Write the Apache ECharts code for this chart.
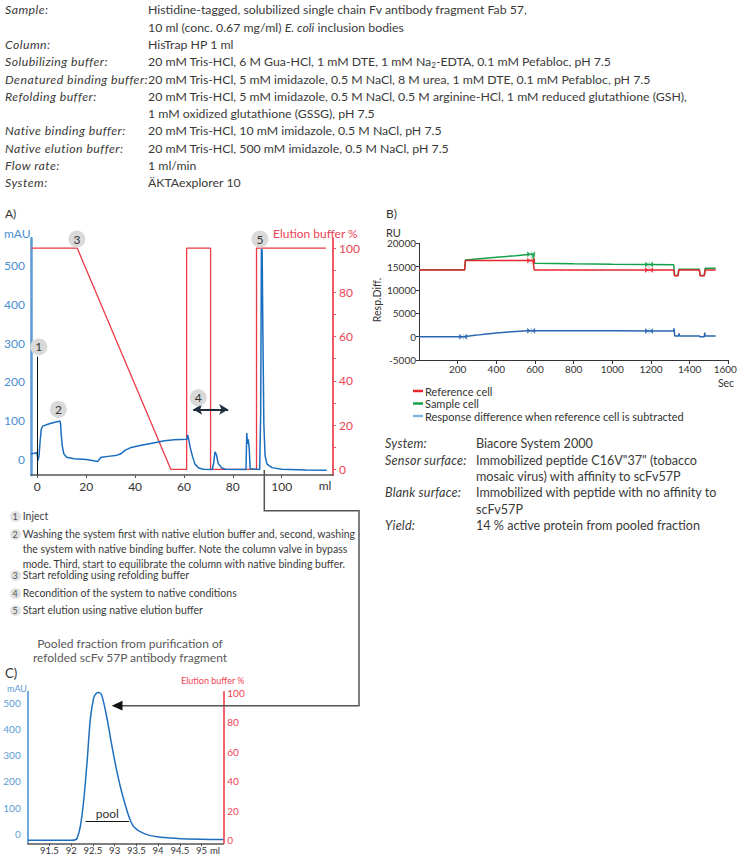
<!DOCTYPE html>
<html>
<head>
<meta charset="utf-8">
<title>Refolding of scFv 57P on HisTrap HP</title>
<script src="https://cdn.jsdelivr.net/npm/echarts@6.0.0/dist/echarts.min.js"></script>
<style>
  html, body { margin:0; padding:0; background:#ffffff; }
  #page { position:relative; width:738px; height:856px; overflow:hidden; font-family: Lato, "Noto Sans", sans-serif; color:#3a3a3a; }
  #chart { position:absolute; left:0; top:0; width:738px; height:856px; }
  .abs { position:absolute; white-space:nowrap; }
  .lab { font-style:italic; letter-spacing:0.45px; }
  sub { font-size:8px; vertical-align:-2px; line-height:0; }
  .num { position:absolute; width:11px; height:11px; border-radius:50%; background:#e2e2e2; color:#555; font-size:9px; line-height:11px; text-align:center; }
</style>
</head>
<body>
<div id="page">
  <div id="chart"></div>

  <!-- method description -->
  <div class="abs" style="left:0;top:1.35px;font-size:12.3px;line-height:17.3px;">
    <div class="abs lab" style="left:5px;top:0px;">Sample:</div>
    <div class="abs" style="left:148px;top:0px;">Histidine-tagged, solubilized single chain Fv antibody fragment Fab 57,<br>10 ml (conc. 0.67 mg/ml) <i>E. coli</i> inclusion bodies</div>
    <div class="abs lab" style="left:5px;top:34.6px;">Column:</div>
    <div class="abs" style="left:148px;top:34.6px;">HisTrap HP 1 ml</div>
    <div class="abs lab" style="left:5px;top:51.9px;">Solubilizing buffer:</div>
    <div class="abs" style="left:148px;top:51.9px;">20 mM Tris-HCl, 6 M Gua-HCl, 1 mM DTE, 1 mM Na<sub>2</sub>-EDTA, 0.1 mM Pefabloc, pH 7.5</div>
    <div class="abs lab" style="left:5px;top:69.2px;">Denatured binding buffer:</div>
    <div class="abs" style="left:148px;top:69.2px;">20 mM Tris-HCl, 5 mM imidazole, 0.5 M NaCl, 8 M urea, 1 mM DTE, 0.1 mM Pefabloc, pH 7.5</div>
    <div class="abs lab" style="left:5px;top:86.5px;">Refolding buffer:</div>
    <div class="abs" style="left:148px;top:86.5px;">20 mM Tris-HCl, 5 mM imidazole, 0.5 M NaCl, 0.5 M arginine-HCl, 1 mM reduced glutathione (GSH),<br>1 mM oxidized glutathione (GSSG), pH 7.5</div>
    <div class="abs lab" style="left:5px;top:121.1px;">Native binding buffer:</div>
    <div class="abs" style="left:148px;top:121.1px;">20 mM Tris-HCl, 10 mM imidazole, 0.5 M NaCl, pH 7.5</div>
    <div class="abs lab" style="left:5px;top:138.4px;">Native elution buffer:</div>
    <div class="abs" style="left:148px;top:138.4px;">20 mM Tris-HCl, 500 mM imidazole, 0.5 M NaCl, pH 7.5</div>
    <div class="abs lab" style="left:5px;top:155.7px;">Flow rate:</div>
    <div class="abs" style="left:148px;top:155.7px;">1 ml/min</div>
    <div class="abs lab" style="left:5px;top:173px;">System:</div>
    <div class="abs" style="left:148px;top:173px;">ÄKTAexplorer 10</div>
  </div>

  <!-- Biacore description -->
  <div class="abs" style="left:0;top:436.3px;font-size:12.6px;line-height:16.4px;">
    <div class="abs lab" style="left:385px;top:0px;letter-spacing:0.2px;">System:</div>
    <div class="abs" style="left:476px;top:0px;">Biacore System 2000</div>
    <div class="abs lab" style="left:385px;top:16.4px;letter-spacing:0.2px;">Sensor surface:</div>
    <div class="abs" style="left:476px;top:16.4px;">Immobilized peptide C16V"37" (tobacco<br>mosaic virus) with affinity to scFv57P</div>
    <div class="abs lab" style="left:385px;top:49.2px;letter-spacing:0.2px;">Blank surface:</div>
    <div class="abs" style="left:476px;top:49.2px;">Immobilized with peptide with no affinity to<br>scFv57P</div>
    <div class="abs lab" style="left:385px;top:82px;letter-spacing:0.2px;">Yield:</div>
    <div class="abs" style="left:476px;top:82px;">14 % active protein from pooled fraction</div>
  </div>

  <!-- numbered notes -->
  <div class="abs" style="left:0;top:0;font-size:10.5px;line-height:15px;">
    <div class="num" style="left:9.5px;top:511.2px;">1</div>
    <div class="abs" style="left:22.7px;top:509.2px;">Inject</div>
    <div class="num" style="left:9.5px;top:528.5px;">2</div>
    <div class="abs" style="left:22.7px;top:526.5px;">Washing the system first with native elution buffer and, second, washing<br>the system with native binding buffer. Note the column valve in bypass<br>mode. Third, start to equilibrate the column with native binding buffer.</div>
    <div class="num" style="left:9.5px;top:570.2px;">3</div>
    <div class="abs" style="left:22.7px;top:568.2px;">Start refolding using refolding buffer</div>
    <div class="num" style="left:9.5px;top:587.8px;">4</div>
    <div class="abs" style="left:22.7px;top:585.8px;">Recondition of the system to native conditions</div>
    <div class="num" style="left:9.5px;top:605.2px;">5</div>
    <div class="abs" style="left:22.7px;top:603.2px;">Start elution using native elution buffer</div>
  </div>

  <div class="abs" style="left:30px;width:200px;top:636.9px;font-size:12px;line-height:14.3px;text-align:center;color:#5a5a5a;">Pooled fraction from purification of<br>refolded scFv 57P antibody fragment</div>
</div>

<script>
// ================= DATA =================
// Chart A: HisTrap HP refolding run  [volume ml, value]
const aUvTrace = [
  [-2.6,15],[-1.0,16],[-0.2,18],[0.3,-2],[0.7,10],[1.1,45],[1.6,78],[2.2,86],[4,90],[6,94],[8.6,98],[9.2,99],
  [9.5,92],[9.8,62],[10.2,35],[10.8,15],[12,6],[15,2],[20,0],[23,-3],[24.8,-5],[25.5,2],[26.2,6],[29,8],
  [32,10],[34,14],[36,24],[38,30],[42,36],[47,42],[52,48],[56,51],[61.2,52],[61.6,63],[62.0,50],[62.6,30],
  [63.5,8],[64.5,-12],[66,-22],[68,-25],[71.6,-26],[72.2,-8],[72.7,20],[73.3,12],[74.0,-10],[75.5,-22],
  [77,-25],[85.4,-26],[85.7,68],[86.0,40],[86.3,52],[86.7,30],[87.1,-24],[91.0,-26],[91.4,120],[91.7,541],
  [92.0,541],[92.3,330],[92.7,90],[93.2,10],[94,-12],[96,-21],[100,-25],[110,-27],[118.4,-28]
];
const aElutionPct = [
  [-2.6,100],[16.3,100],[54.6,0],[61.1,0],[61.1,100],[70.9,100],[70.9,0],[89.7,0],[89.7,100],[118.1,100]
];
const aXTicks = [0,20,40,60,80,100];
const aLeftTicks = [0,100,200,300,400,500];
const aRightTicks = [0,20,40,60,80,100];
const aRightMinorTicks = [0,10,20,30,40,50,60,70,80,90,100];
const aNoteLabels = ['1','2','3','4','5'];
const aNoteMl = [0.6, 8.6, 16.2, 65.8, 91.1];
const aNoteMAU = [290, 129, 568, 159, 568];
const aInjectLine = [[0,265],[0,-40]];
const aReconditionArrow = [[63.8,129],[78.1,129]];

// Chart B: Biacore sensorgram  [time s, RU]
const bReference = [
  [0,14300],[236,14300],[240,16300],[590,16300],[596,14300],[1318,14300],[1322,13050],[1340,13050],
  [1344,14300],[1450,14300],[1454,13050],[1476,13050],[1480,14300],[1535,14300]
];
const bSample = [
  [0,14350],[236,14350],[240,16400],[300,16650],[400,17000],[500,17350],[588,17700],[596,15750],[800,15600],
  [1000,15500],[1200,15450],[1318,15380],[1322,13100],[1340,13100],[1344,14450],[1450,14450],[1454,13100],
  [1476,13100],[1480,14650],[1535,14650]
];
const bDifference = [
  [0,0],[230,0],[240,60],[300,330],[350,580],[400,790],[450,970],[500,1120],[560,1270],[600,1290],[800,1270],
  [1000,1250],[1200,1230],[1317,1220],[1319,1800],[1323,150],[1343,150],[1345,700],[1347,150],[1450,150],
  [1452,0],[1476,0],[1478,900],[1480,150],[1535,150]
];
const bReferenceMarks = [[580,16300],[1190,14300]];
const bSampleMarks = [[580,17650],[1190,15450]];
const bDifferenceMarks = [[228,0],[580,1290],[1190,1230]];
const bLegendNames = ['Reference cell','Sample cell','Response difference when reference cell is subtracted'];

// Chart C: pooled peak  [volume ml, mAU]
const cUvTrace = [
  [91.0,-25],[91.5,-25],[92.0,-25],[92.1,-23],[92.14,-16],[92.21,27],[92.29,129],[92.37,283],[92.44,437],
  [92.52,521],[92.58,538],[92.64,541],[92.71,527],[92.83,437],[92.94,334],[93.06,232],[93.17,155],[93.33,65],
  [93.44,27],[93.67,1],[93.98,-12],[94.44,-18],[95.0,-21],[95.5,-22]
];
const cPool = [[92.33,47],[93.33,47]];
const cXTicks = [91.5,92,92.5,93,93.5,94,94.5,95];
const cLeftTicks = [0,100,200,300,400,500];
const cRightTicks = [0,20,40,60,80,100];

// ================= CHART =================
const FONT = 'Lato, "Noto Sans", sans-serif';
const BLUE_AX = '#5b9bd5', RED_AX = '#ee5a66';
const chart = echarts.init(document.getElementById('chart'), null, {renderer:'svg', width:738, height:856});

function txt(text, x, y, opt) {
  opt = opt || {};
  return {
    type:'text', x:x, y:y, rotation:opt.rotation || 0, z:100,
    style:{text:text, fill:opt.color || '#333', fontSize:opt.size || 12, fontFamily:FONT,
      textAlign:opt.align || 'left', textVerticalAlign:'middle', align:opt.align || 'left', verticalAlign:'middle'}
  };
}
const plain = v => String(v);
const BOWTIE = 'path://M0,0L5,4L0,8ZM11,0L6,4L11,8ZM5.2,0L5.8,0L5.8,8L5.2,8Z';

const option = {
  animation:false,
  textStyle:{fontFamily:FONT},
  grid:[
    {left:31, top:238.3, width:302, height:236.7, outerBoundsMode:'none'},
    {left:419, top:243.3, width:309.3, height:116.7, outerBoundsMode:'none'},
    {left:27.7, top:691.7, width:195.6, height:151.6, outerBoundsMode:'none'}
  ],
  xAxis:[
    {gridIndex:0, type:'value', min:-2.6, max:121, splitLine:{show:false},
      axisLine:{onZero:false, lineStyle:{color:'#555', width:1.5}},
      axisTick:{customValues:aXTicks, length:3, lineStyle:{color:'#555'}},
      axisLabel:{customValues:aXTicks, color:'#333', fontSize:12, margin:5, formatter:plain}},
    {gridIndex:1, type:'value', min:0, max:1600, interval:200, splitLine:{show:false},
      axisLine:{onZero:false, lineStyle:{color:'#333', width:1}},
      axisTick:{length:4, lineStyle:{color:'#333'}},
      axisLabel:{showMinLabel:false, color:'#333', fontSize:10, margin:4,
        formatter:v => v === 1600 ? '{e|1600}' : String(v),
        rich:{e:{fontSize:10, color:'#333', fontFamily:FONT, padding:[0,6,0,0]}}}},
    {gridIndex:2, type:'value', min:91.0, max:95.5, splitLine:{show:false},
      axisLine:{onZero:false, lineStyle:{color:'#555', width:1.5}},
      axisTick:{customValues:cXTicks, length:3, lineStyle:{color:'#555'}},
      axisLabel:{customValues:cXTicks, color:'#333', fontSize:9.5, margin:2.5, formatter:plain}}
  ],
  yAxis:[
    {gridIndex:0, type:'value', position:'left', min:-40, max:570, splitLine:{show:false},
      axisLine:{show:true, onZero:false, lineStyle:{color:BLUE_AX, width:2.5}},
      axisTick:{show:false},
      axisLabel:{customValues:aLeftTicks, color:'#4a90d0', fontSize:12, margin:6, formatter:plain}},
    {gridIndex:0, type:'value', position:'right', min:-2.58, max:104.4, splitLine:{show:false},
      axisLine:{show:true, onZero:false, lineStyle:{color:RED_AX, width:2}},
      axisTick:{show:true, customValues:aRightMinorTicks, length:3, lineStyle:{color:RED_AX}},
      axisLabel:{customValues:aRightTicks, color:'#ee4455', fontSize:12, margin:6, formatter:plain}},
    {gridIndex:1, type:'value', min:-5000, max:20000, interval:5000, splitLine:{show:false},
      axisLine:{show:true, onZero:false, lineStyle:{color:'#333', width:1}},
      axisTick:{show:true, length:3, lineStyle:{color:'#333'}},
      axisLabel:{color:'#333', fontSize:10, margin:3, formatter:plain}},
    {gridIndex:2, type:'value', position:'left', min:-36.8, max:544, splitLine:{show:false},
      axisLine:{show:true, onZero:false, lineStyle:{color:'#6fa8dc', width:2}},
      axisTick:{show:false},
      axisLabel:{customValues:cLeftTicks, color:'#5b9bd5', fontSize:10, margin:7, formatter:plain}},
    {gridIndex:2, type:'value', position:'right', min:-2.0, max:100.7, splitLine:{show:false},
      axisLine:{show:true, onZero:false, lineStyle:{color:'#e8303a', width:1.5}},
      axisTick:{show:false},
      axisLabel:{customValues:cRightTicks, color:'#ee4455', fontSize:10, margin:4, formatter:plain}}
  ],
  legend:{
    orient:'vertical', left:408, top:380, itemWidth:10, itemHeight:2.5, itemGap:0.5, icon:'rect',
    selectedMode:false,
    textStyle:{fontSize:11, color:'#333', lineHeight:12, padding:[0,0,0,-3]},
    data:[
      {name:bLegendNames[0], itemStyle:{color:'#e8262e'}},
      {name:bLegendNames[1], itemStyle:{color:'#13a04a'}},
      {name:bLegendNames[2], itemStyle:{color:'#80b4e0'}}
    ]
  },
  series:[
    // ---- A ----
    {name:'Elution buffer %', type:'line', xAxisIndex:0, yAxisIndex:1, data:aElutionPct, symbol:'none',
      lineStyle:{color:'#ec3a46', width:1.3}, silent:true, z:2},
    {name:'UV A', type:'line', xAxisIndex:0, yAxisIndex:0, data:aUvTrace, symbol:'none',
      lineStyle:{color:'#1a6ec0', width:1.5}, silent:true, z:3,
      markLine:{silent:true, symbol:'none', label:{show:false},
        data:[
          [{coord:aInjectLine[0], symbol:'none', lineStyle:{color:'#111', width:1, type:'solid'}},
           {coord:aInjectLine[1], symbol:'none'}],
          [{coord:aReconditionArrow[0], symbol:'arrow', symbolSize:[8,9], lineStyle:{color:'#1f2d3d', width:2, type:'solid'}},
           {coord:aReconditionArrow[1], symbol:'arrow', symbolSize:[8,9]}]
        ]},
      markPoint:{silent:true, symbol:'circle', symbolSize:17,
        itemStyle:{color:'#d9d9d9'},
        label:{show:true, formatter:'{b}', color:'#333', fontSize:12, fontFamily:FONT},
        data:aNoteLabels.map((n,i)=>({name:n, coord:[aNoteMl[i], aNoteMAU[i]]}))}
    },
    // ---- B ----
    {name:bLegendNames[1], type:'line', xAxisIndex:1, yAxisIndex:2, data:bSample, symbol:'none',
      lineStyle:{color:'#13a04a', width:1.5}, itemStyle:{color:'#13a04a'}, silent:true, z:2},
    {name:bLegendNames[0], type:'line', xAxisIndex:1, yAxisIndex:2, data:bReference, symbol:'none',
      lineStyle:{color:'#e8262e', width:1.5}, itemStyle:{color:'#e8262e'}, silent:true, z:3},
    {name:bLegendNames[2], type:'line', xAxisIndex:1, yAxisIndex:2, data:bDifference, symbol:'none',
      lineStyle:{color:'#2b66b0', width:1.5}, itemStyle:{color:'#80b4e0'}, silent:true, z:3},
    {name:'refMarks', type:'scatter', xAxisIndex:1, yAxisIndex:2, data:bReferenceMarks, silent:true, z:4,
      symbol:BOWTIE, symbolSize:[8,6], itemStyle:{color:'#e8262e'}},
    {name:'sampleMarks', type:'scatter', xAxisIndex:1, yAxisIndex:2, data:bSampleMarks, silent:true, z:4,
      symbol:BOWTIE, symbolSize:[8,6], itemStyle:{color:'#13a04a'}},
    {name:'diffMarks', type:'scatter', xAxisIndex:1, yAxisIndex:2, data:bDifferenceMarks, silent:true, z:4,
      symbol:BOWTIE, symbolSize:[8,6], itemStyle:{color:'#2b66b0'}},
    // ---- C ----
    {name:'UV C', type:'line', xAxisIndex:2, yAxisIndex:3, data:cUvTrace, symbol:'none', smooth:0.3,
      lineStyle:{color:'#1f6fbf', width:1.5}, silent:true,
      markLine:{silent:true, symbol:'none',
        label:{show:true, formatter:'pool', position:'insideMiddleTop', distance:2, color:'#333', fontSize:12, fontFamily:FONT},
        lineStyle:{color:'#111', width:1.2, type:'solid'},
        data:[[{coord:cPool[0]},{coord:cPool[1]}]]}}
  ],
  graphic:[
    txt('A)', 5, 213),
    txt('B)', 386, 213),
    txt('C)', 5, 673, {size:13}),
    txt('mAU', 4, 233, {color:'#4a90d0'}),
    txt('Elution buffer %', 273, 233, {color:'#ee4455'}),
    txt('ml', 325, 485, {align:'center'}),
    txt('RU', 386, 232, {size:11}),
    txt('Resp.Diff.', 377, 300, {size:10.5, align:'center', rotation:Math.PI/2}),
    txt('Sec', 726, 383, {size:10.5, align:'center'}),
    txt('mAU', 7, 688, {size:9, color:'#5b9bd5'}),
    txt('Elution buffer %', 181, 680, {size:9, color:'#ee4455'}),
    txt('ml', 215, 850.5, {size:9.5, align:'center'}),
    {type:'polyline', z:50, silent:true,
      shape:{points:[[264.3,470],[264.3,510.7],[359,510.7],[359,705.7],[120,705.7]]},
      style:{stroke:'#555', lineWidth:1.5, fill:null}},
    {type:'polygon', z:51, silent:true,
      shape:{points:[[111.7,705.7],[122.5,700.8],[122.5,710.6]]},
      style:{fill:'#111'}}
  ]
};
chart.setOption(option);
</script>
</body>
</html>
